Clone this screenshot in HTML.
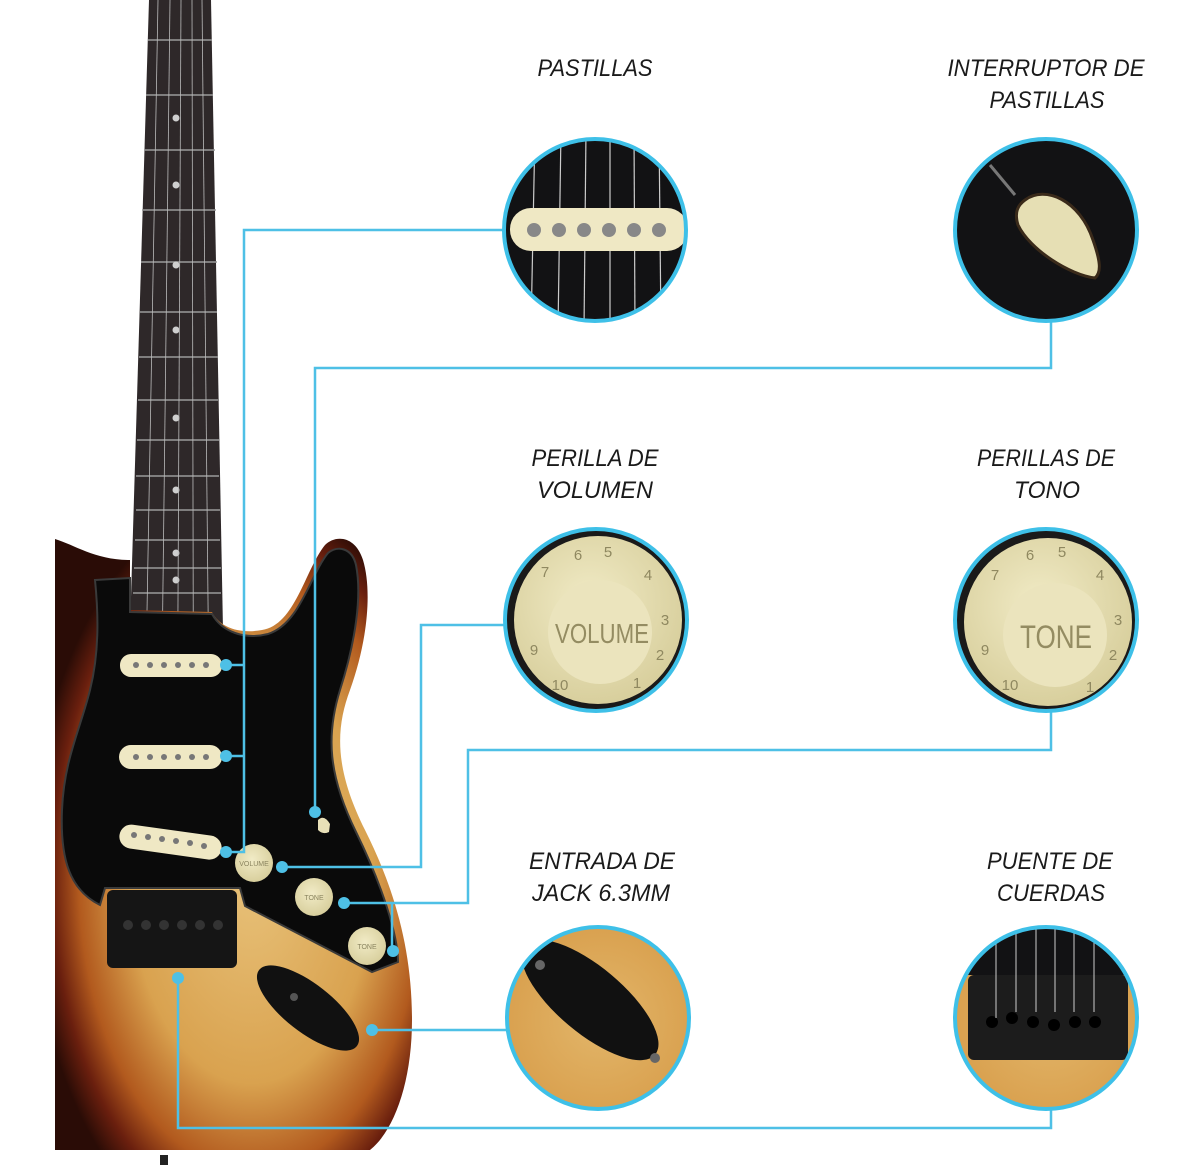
<!DOCTYPE html>
<html><head><meta charset="utf-8"><style>
html,body{margin:0;padding:0;background:#fff;}
svg{display:block}
.lbl{font-family:"Liberation Sans",sans-serif;font-style:italic;font-size:24px;fill:#1a1a1a;text-anchor:middle;}
.num{font-family:"Liberation Sans",sans-serif;font-size:15px;fill:#8f8860;text-anchor:middle;}
</style></head><body>
<svg width="1200" height="1168" viewBox="0 0 1200 1168" xmlns="http://www.w3.org/2000/svg">
<defs>
<radialGradient id="burst" cx="0.55" cy="0.55" r="0.62">
<stop offset="0" stop-color="#e8c27a"/>
<stop offset="0.55" stop-color="#d9a24f"/>
<stop offset="0.78" stop-color="#b25a1e"/>
<stop offset="0.9" stop-color="#6a1f0e"/>
<stop offset="1" stop-color="#2a0c06"/>
</radialGradient>
<radialGradient id="wood" cx="0.5" cy="0.5" r="0.7">
<stop offset="0" stop-color="#e2b66a"/><stop offset="0.7" stop-color="#d9a04e"/><stop offset="1" stop-color="#b86a2a"/>
</radialGradient>
<radialGradient id="knob" cx="0.45" cy="0.4" r="0.6">
<stop offset="0" stop-color="#f1ebc6"/><stop offset="1" stop-color="#d8cf9d"/>
</radialGradient>
<clipPath id="c1"><circle cx="595" cy="230" r="91"/></clipPath>
<clipPath id="c2"><circle cx="1046" cy="230" r="91"/></clipPath>
<clipPath id="c3"><circle cx="596" cy="620" r="91"/></clipPath>
<clipPath id="c4"><circle cx="1046" cy="620" r="91"/></clipPath>
<clipPath id="c5"><circle cx="598" cy="1018" r="91"/></clipPath>
<clipPath id="c6"><circle cx="1046" cy="1018" r="91"/></clipPath>
</defs>

<!-- neck -->
<polygon points="149,0 211,0 223,630 130,630" fill="#2e2829"/>
<g stroke="#9a9a9a" stroke-width="1.5">
<line x1="148" y1="40" x2="212" y2="40"/><line x1="146" y1="95" x2="213" y2="95"/>
<line x1="144" y1="150" x2="215" y2="150"/><line x1="142" y1="210" x2="216" y2="210"/>
<line x1="141" y1="262" x2="217" y2="262"/><line x1="140" y1="312" x2="217" y2="312"/>
<line x1="139" y1="357" x2="218" y2="357"/><line x1="138" y1="400" x2="218" y2="400"/>
<line x1="137" y1="440" x2="219" y2="440"/><line x1="136" y1="476" x2="219" y2="476"/>
<line x1="136" y1="510" x2="220" y2="510"/><line x1="135" y1="540" x2="220" y2="540"/>
<line x1="134" y1="568" x2="221" y2="568"/><line x1="133" y1="593" x2="221" y2="593"/>
</g>
<g fill="#cfcfcf">
<circle cx="176" cy="118" r="3.5"/><circle cx="176" cy="185" r="3.5"/><circle cx="176" cy="265" r="3.5"/>
<circle cx="176" cy="330" r="3.5"/><circle cx="176" cy="418" r="3.5"/><circle cx="176" cy="490" r="3.5"/>
<circle cx="176" cy="553" r="3.5"/><circle cx="176" cy="580" r="3.5"/>
</g>
<g stroke="#bbb" stroke-width="0.8">
<line x1="158" y1="0" x2="140" y2="1000"/><line x1="170" y1="0" x2="158" y2="1000"/>
<line x1="181" y1="0" x2="176" y2="1000"/><line x1="192" y1="0" x2="194" y2="1000"/>
<line x1="202" y1="0" x2="212" y2="1000"/>
</g>

<!-- body -->
<path d="M55,539 C75,545 95,560 130,560 L130,610 L212,612 C220,628 240,634 262,630 C295,625 305,570 325,545 C335,535 355,535 363,560 C372,590 368,640 350,690 C335,730 335,770 365,830 C395,890 412,950 412,1020 C412,1080 395,1130 370,1150 L55,1150 Z" fill="url(#burst)"/>
<!-- pickguard -->
<path d="M95,580 L130,578 L130,612 L212,614 C222,632 245,640 268,634 C300,624 310,575 328,553 C338,545 352,548 356,565 C362,595 356,640 340,690 C326,735 328,775 356,832 C382,885 398,935 398,962 L372,972 L245,906 L240,888 L105,888 L100,905 C70,890 60,860 62,810 C64,760 80,730 90,690 C100,650 98,610 95,580 Z" fill="#0a0a0a" stroke="#3a3a3a" stroke-width="2"/>
<!-- pickups -->
<rect x="120" y="654" width="102" height="23" rx="11" fill="#efe8c4"/>
<rect x="119" y="745" width="103" height="24" rx="12" fill="#efe8c4"/>
<rect x="119" y="830" width="103" height="24" rx="12" fill="#efe8c4" transform="rotate(8 170 842)"/>
<g fill="#777">
<circle cx="136" cy="665" r="3"/><circle cx="150" cy="665" r="3"/><circle cx="164" cy="665" r="3"/><circle cx="178" cy="665" r="3"/><circle cx="192" cy="665" r="3"/><circle cx="206" cy="665" r="3"/>
<circle cx="136" cy="757" r="3"/><circle cx="150" cy="757" r="3"/><circle cx="164" cy="757" r="3"/><circle cx="178" cy="757" r="3"/><circle cx="192" cy="757" r="3"/><circle cx="206" cy="757" r="3"/>
<circle cx="134" cy="835" r="3"/><circle cx="148" cy="837" r="3"/><circle cx="162" cy="839" r="3"/><circle cx="176" cy="841" r="3"/><circle cx="190" cy="843" r="3"/><circle cx="204" cy="846" r="3"/>
</g>
<!-- bridge -->
<rect x="107" y="890" width="130" height="78" rx="6" fill="#151515"/>
<g fill="#333"><circle cx="128" cy="925" r="5"/><circle cx="146" cy="925" r="5"/><circle cx="164" cy="925" r="5"/><circle cx="182" cy="925" r="5"/><circle cx="200" cy="925" r="5"/><circle cx="218" cy="925" r="5"/></g>
<!-- knobs -->
<circle cx="254" cy="863" r="19" fill="url(#knob)"/>
<text x="254" y="866" font-family="Liberation Sans" font-size="7" fill="#8a845f" text-anchor="middle">VOLUME</text>
<circle cx="314" cy="897" r="19" fill="url(#knob)"/>
<text x="314" y="900" font-family="Liberation Sans" font-size="7" fill="#8a845f" text-anchor="middle">TONE</text>
<circle cx="367" cy="946" r="19" fill="url(#knob)"/>
<text x="367" y="949" font-family="Liberation Sans" font-size="7" fill="#8a845f" text-anchor="middle">TONE</text>
<path d="M318,820 q6,-6 12,4 l-1,8 q-6,3 -11,-2 z" fill="#e8e0b8"/>
<!-- jack plate -->
<ellipse cx="308" cy="1008" rx="62" ry="24" transform="rotate(38 308 1008)" fill="#111"/>
<circle cx="294" cy="997" r="4" fill="#555"/>
<rect x="160" y="1155" width="8" height="10" fill="#222"/>

<!-- connectors -->
<g stroke="#4ec0e6" stroke-width="2.5" fill="none">
<polyline points="504,230 244,230 244,852 226,852"/>
<line x1="226" y1="665" x2="244" y2="665"/>
<line x1="226" y1="756" x2="244" y2="756"/>
<polyline points="1051,322 1051,368 315,368 315,812"/>
<polyline points="505,625 421,625 421,867 282,867"/>
<polyline points="1051,711 1051,750 468,750 468,903 344,903"/>
<line x1="392" y1="903" x2="392" y2="951"/>
<line x1="372" y1="1030" x2="507" y2="1030"/>
<polyline points="178,978 178,1128 1051,1128 1051,1108"/>
</g>
<g fill="#4ec0e6">
<circle cx="226" cy="665" r="6"/><circle cx="226" cy="756" r="6"/><circle cx="226" cy="852" r="6"/>
<circle cx="315" cy="812" r="6"/><circle cx="282" cy="867" r="6"/><circle cx="344" cy="903" r="6"/>
<circle cx="393" cy="951" r="6"/><circle cx="372" cy="1030" r="6"/><circle cx="178" cy="978" r="6"/>
</g>

<!-- circle 1 pickup -->
<g clip-path="url(#c1)">
<rect x="500" y="135" width="200" height="200" fill="#121214"/>
<g stroke="#ccc" stroke-width="1.2">
<line x1="535" y1="130" x2="531" y2="330"/><line x1="561" y1="130" x2="558" y2="330"/><line x1="586" y1="130" x2="584" y2="330"/>
<line x1="610" y1="130" x2="610" y2="330"/><line x1="634" y1="130" x2="635" y2="330"/><line x1="659" y1="130" x2="661" y2="330"/>
</g>
<rect x="510" y="208" width="178" height="43" rx="21" fill="#efe8c4"/>
<g fill="#888"><circle cx="534" cy="230" r="7"/><circle cx="559" cy="230" r="7"/><circle cx="584" cy="230" r="7"/><circle cx="609" cy="230" r="7"/><circle cx="634" cy="230" r="7"/><circle cx="659" cy="230" r="7"/></g>
</g>
<circle cx="595" cy="230" r="91" fill="none" stroke="#3ec0e8" stroke-width="4"/>

<!-- circle 2 switch -->
<g clip-path="url(#c2)">
<rect x="950" y="135" width="200" height="200" fill="#121214"/>
<path d="M1025,200 C1045,185 1080,200 1093,240 C1100,260 1102,272 1095,278 C1070,275 1030,250 1018,225 C1014,212 1018,205 1025,200 Z" fill="#e6dfb4" stroke="#3a2a1a" stroke-width="3"/>
<line x1="990" y1="165" x2="1015" y2="195" stroke="#777" stroke-width="3"/>
</g>
<circle cx="1046" cy="230" r="91" fill="none" stroke="#3ec0e8" stroke-width="4"/>

<!-- circle 3 volume -->
<g clip-path="url(#c3)">
<rect x="500" y="525" width="200" height="200" fill="#1a1a1a"/>
<circle cx="598" cy="620" r="84" fill="url(#knob)"/>
<circle cx="600" cy="632" r="52" fill="#ebe4bd"/>
<text x="602" y="643" font-family="Liberation Sans" font-size="28" fill="#948c62" text-anchor="middle" textLength="94" lengthAdjust="spacingAndGlyphs">VOLUME</text>
<text class="num" x="578" y="560">6</text><text class="num" x="608" y="557">5</text><text class="num" x="648" y="580">4</text>
<text class="num" x="665" y="625">3</text><text class="num" x="660" y="660">2</text><text class="num" x="637" y="688">1</text>
<text class="num" x="560" y="690">10</text><text class="num" x="534" y="655">9</text><text class="num" x="545" y="577">7</text>
</g>
<circle cx="596" cy="620" r="91" fill="none" stroke="#3ec0e8" stroke-width="4"/>

<!-- circle 4 tone -->
<g clip-path="url(#c4)">
<rect x="950" y="525" width="200" height="200" fill="#1a1a1a"/>
<circle cx="1048" cy="622" r="84" fill="url(#knob)"/>
<circle cx="1055" cy="635" r="52" fill="#ebe4bd"/>
<text x="1056" y="648" font-family="Liberation Sans" font-size="32" fill="#948c62" text-anchor="middle" textLength="72" lengthAdjust="spacingAndGlyphs">TONE</text>
<text class="num" x="1030" y="560">6</text><text class="num" x="1062" y="557">5</text><text class="num" x="1100" y="580">4</text>
<text class="num" x="1118" y="625">3</text><text class="num" x="1113" y="660">2</text><text class="num" x="1090" y="692">1</text>
<text class="num" x="1010" y="690">10</text><text class="num" x="985" y="655">9</text><text class="num" x="995" y="580">7</text>
</g>
<circle cx="1046" cy="620" r="91" fill="none" stroke="#3ec0e8" stroke-width="4"/>

<!-- circle 5 jack -->
<g clip-path="url(#c5)">
<rect x="500" y="920" width="200" height="200" fill="url(#wood)"/>
<path d="M640,930 L700,990 L700,930 Z" fill="#a8401e"/>
<ellipse cx="590" cy="1000" rx="85" ry="33" transform="rotate(40 590 1000)" fill="#111"/>
<circle cx="540" cy="965" r="5" fill="#666"/><circle cx="655" cy="1058" r="5" fill="#666"/>
</g>
<circle cx="598" cy="1018" r="91" fill="none" stroke="#3ec0e8" stroke-width="4"/>

<!-- circle 6 bridge -->
<g clip-path="url(#c6)">
<rect x="950" y="920" width="200" height="200" fill="url(#wood)"/>
<rect x="950" y="920" width="200" height="55" fill="#121214"/>
<rect x="968" y="975" width="160" height="85" rx="6" fill="#1c1c1c"/>
<g fill="#000"><circle cx="992" cy="1022" r="6"/><circle cx="1012" cy="1018" r="6"/><circle cx="1033" cy="1022" r="6"/><circle cx="1054" cy="1025" r="6"/><circle cx="1075" cy="1022" r="6"/><circle cx="1095" cy="1022" r="6"/></g>
<g stroke="#ccc" stroke-width="1"><line x1="996" y1="920" x2="996" y2="1018"/><line x1="1016" y1="920" x2="1016" y2="1012"/><line x1="1036" y1="920" x2="1036" y2="1012"/><line x1="1055" y1="920" x2="1055" y2="1012"/><line x1="1074" y1="920" x2="1074" y2="1012"/><line x1="1094" y1="920" x2="1094" y2="1012"/></g>
</g>
<circle cx="1046" cy="1018" r="91" fill="none" stroke="#3ec0e8" stroke-width="4"/>

<!-- labels -->
<text class="lbl" x="595" y="76" textLength="115" lengthAdjust="spacingAndGlyphs">PASTILLAS</text>
<text class="lbl" x="1046" y="76" textLength="197" lengthAdjust="spacingAndGlyphs">INTERRUPTOR DE</text>
<text class="lbl" x="1047" y="108" textLength="115" lengthAdjust="spacingAndGlyphs">PASTILLAS</text>
<text class="lbl" x="595" y="466" textLength="127" lengthAdjust="spacingAndGlyphs">PERILLA DE</text>
<text class="lbl" x="595" y="498" textLength="116" lengthAdjust="spacingAndGlyphs">VOLUMEN</text>
<text class="lbl" x="1046" y="466" textLength="138" lengthAdjust="spacingAndGlyphs">PERILLAS DE</text>
<text class="lbl" x="1047" y="498" textLength="66" lengthAdjust="spacingAndGlyphs">TONO</text>
<text class="lbl" x="602" y="869" textLength="146" lengthAdjust="spacingAndGlyphs">ENTRADA DE</text>
<text class="lbl" x="601" y="901" textLength="138" lengthAdjust="spacingAndGlyphs">JACK 6.3MM</text>
<text class="lbl" x="1050" y="869" textLength="126" lengthAdjust="spacingAndGlyphs">PUENTE DE</text>
<text class="lbl" x="1051" y="901" textLength="108" lengthAdjust="spacingAndGlyphs">CUERDAS</text>
</svg>
</body></html>
